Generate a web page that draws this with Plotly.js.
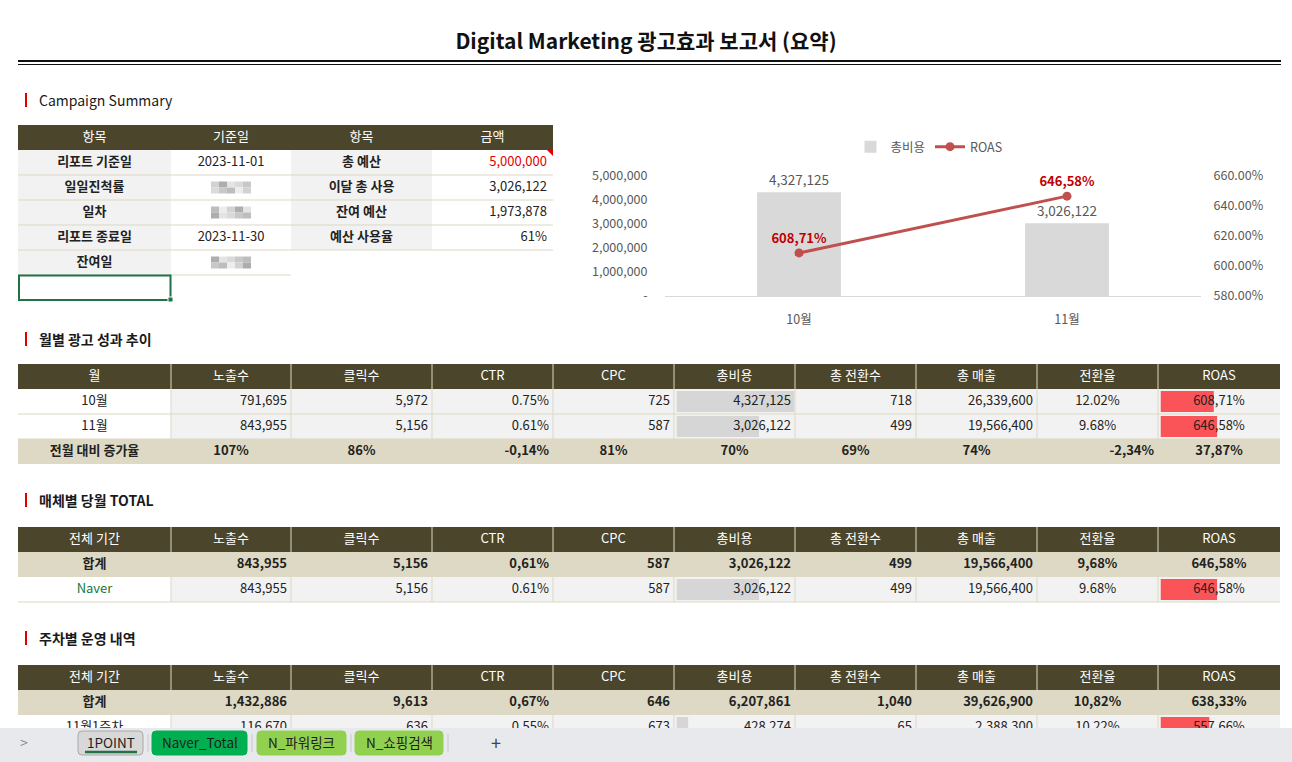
<!DOCTYPE html>
<html>
<head>
<meta charset="utf-8">
<script src="https://cdn.plot.ly/plotly-3.0.1.min.js"></script>
<style>
html,body{margin:0;padding:0;background:#fff;overflow:hidden;}
#sheet{width:1292px;height:762px;}
</style>
</head>
<body>
<div id="sheet"></div>
<script>
// ================= DATA =================
const reportTitle = 'Digital Marketing 광고효과 보고서 (요약)';
const sectionTitles = ['Campaign Summary', '월별 광고 성과 추이', '매체별 당월 TOTAL', '주차별 운영 내역'];

// Campaign summary
const summaryHeaders = ['항목', '기준일', '항목', '금액'];
const summaryItemsA = ['리포트 기준일', '일일진척률', '일차', '리포트 종료일', '잔여일'];
const summaryValuesA = ['2023-11-01', null, null, '2023-11-30', null]; // null = masked in source
const summaryItemsB = ['총 예산', '이달 총 사용', '잔여 예산', '예산 사용율'];
const summaryValuesB = ['5,000,000', '3,026,122', '1,973,878', '61%'];

const metricHeaders = ['노출수', '클릭수', 'CTR', 'CPC', '총비용', '총 전환수', '총 매출', '전환율', 'ROAS'];

// Monthly
const months = ['10월', '11월'];
const monthImpressions = [791695, 843955];
const monthClicks = [5972, 5156];
const monthCTR = ['0.75%', '0.61%'];
const monthCPC = [725, 587];
const monthCost = [4327125, 3026122];
const monthConversions = [718, 499];
const monthRevenue = [26339600, 19566400];
const monthCVR = ['12.02%', '9.68%'];
const monthROAS = [608.71, 646.58];
const momLabel = '전월 대비 증가율';
const momGrowth = ['107%', '86%', '-0,14%', '81%', '70%', '69%', '74%', '-2,34%', '37,87%'];

// Media
const periodHeader = '전체 기간';
const totalLabel = '합계';
const mediaTotal = ['843,955', '5,156', '0,61%', '587', '3,026,122', '499', '19,566,400', '9,68%', '646,58%'];
const mediaNames = ['Naver'];
const mediaImpressions = [843955];
const mediaClicks = [5156];
const mediaCTR = ['0.61%'];
const mediaCPC = [587];
const mediaCost = [3026122];
const mediaConversions = [499];
const mediaRevenue = [19566400];
const mediaCVR = ['9.68%'];
const mediaROAS = [646.58];

// Weekly
const weekTotal = ['1,432,886', '9,613', '0,67%', '646', '6,207,861', '1,040', '39,626,900', '10,82%', '638,33%'];
const weeks = ['11월1주차'];
const weekImpressions = [116670];
const weekClicks = [636];
const weekCTR = ['0.55%'];
const weekCPC = [673];
const weekCost = [428274];
const weekConversions = [65];
const weekRevenue = [2388300];
const weekCVR = ['10.22%'];
const weekROAS = [557.66];

// chart axis ticks
const costTicks = [0, 1000000, 2000000, 3000000, 4000000, 5000000];

// sheet tabs
const sheetTabs = ['1POINT', 'Naver_Total', 'N_파워링크', 'N_쇼핑검색'];

// ================= STYLE / GEOMETRY =================
const W = 1292, H = 762;
const TAB_TOP = 728;
const FONT = "'Noto Sans CJK KR', 'Noto Sans', sans-serif";
const HEAD = '#4b452b', BEIGE = '#ddd9c4', GRAY = '#f2f2f2', WHITE = '#ffffff';
const LINE = '#ddd9c4', TEXT = '#222222', RED = '#e60000', GREEN_TXT = '#127a3a';
const TSIZE = 13;
const X0 = 18;
const colWidths = [153, 120, 141, 121, 121, 121, 121, 121, 121, 122];
const colX = [X0];
colWidths.forEach(w => colX.push(colX[colX.length - 1] + w));
const ROW_H = 25;
const ROAS_BAR_MAX = 1342;

const DATA_ALIGN = ['center', 'right', 'right', 'right', 'right', 'right', 'right', 'right', 'center', 'center'];
const MOM_ALIGN = ['center', 'center', 'center', 'right', 'center', 'center', 'center', 'center', 'right', 'center'];

const fmtInt = v => v.toLocaleString('en-US');
const fmtRoas = v => v.toFixed(2).replace('.', ',') + '%';

// ================= BUILDERS =================
const fills = [], lines = [], upper = [];
const annotations = [];
const textGroups = {};
const costBars = { x: [], y: [] }, roasBars = { x: [], y: [] };

function rect(arr, x0, y0, x1, y1, fill, line) {
  arr.push({ type: 'rect', xref: 'x', yref: 'y', x0, y0, x1, y1, fillcolor: fill,
    line: line || { width: 0 }, layer: arr === upper ? 'above' : 'below' });
}
function hline(x0, x1, y, color, w) {
  lines.push({ type: 'line', xref: 'x', yref: 'y', x0, x1, y0: y, y1: y, line: { color, width: w || 1 }, layer: 'below' });
}
function vline(x, y0, y1, color, w) {
  lines.push({ type: 'line', xref: 'x', yref: 'y', x0: x, x1: x, y0, y1, line: { color, width: w || 1 }, layer: 'below' });
}
function addText(x, y, text, align, bold, color, size) {
  const key = align + (bold ? 'B' : 'N');
  if (!textGroups[key]) textGroups[key] = { align, bold, x: [], y: [], text: [], color: [], size: [] };
  const g = textGroups[key];
  g.x.push(x); g.y.push(y); g.text.push(text); g.color.push(color || TEXT); g.size.push(size || TSIZE);
}
function cellX(c, align) {
  if (align === 'right') return colX[c + 1] - 4;
  if (align === 'left') return colX[c] + 4;
  return (colX[c] + colX[c + 1]) / 2;
}
function maskCell(c, yc, seed) {
  const tones = ['#e4e4e4', '#d2d2d2', '#bdbdbd', '#dadada', '#adadad', '#ededed', '#c8c8c8'];
  const cx = (colX[c] + colX[c + 1]) / 2;
  for (let r = 0; r < 2; r++) {
    for (let k = 0; k < 5; k++) {
      const t = tones[(k * 3 + r * 2 + seed) % tones.length];
      rect(fills, cx - 20 + k * 8, yc - 6 + r * 6, cx - 12 + k * 8, yc + r * 6, t);
    }
  }
}

function sectionTitle(label, yc, bold) {
  lines.push({ type: 'line', xref: 'x', yref: 'y', x0: 26, x1: 26, y0: yc - 7, y1: yc + 7, line: { color: '#e00000', width: 2 }, layer: 'below' });
  annotations.push({ xref: 'x', yref: 'y', x: 37, y: yc, text: label, showarrow: false, xanchor: 'left', yanchor: 'middle',
    font: { family: FONT, size: 14, color: '#1a1a1a', weight: bold ? 700 : 400 } });
}

function wideTable(top, rows) {
  const headers = [periodHeader].concat(metricHeaders);
  const labels = rows.header || headers;
  for (let c = 0; c < 10; c++) {
    rect(fills, colX[c], top, colX[c + 1], top + ROW_H, HEAD);
    addText(cellX(c, 'center'), top + ROW_H / 2, labels[c], 'center', false, '#ffffff');
  }
  rows.list.forEach((r, i) => {
    const y0 = top + ROW_H * (i + 1), yc = y0 + ROW_H / 2;
    for (let c = 0; c < 10; c++) {
      rect(fills, colX[c], y0, colX[c + 1], y0 + ROW_H, r.fills[c]);
      addText(cellX(c, r.align[c]), yc, r.cells[c], r.align[c], r.bold, r.colors ? r.colors[c] : TEXT);
    }
    if (r.cost !== undefined) { costBars.x.push(r.cost); costBars.y.push(yc); }
    if (r.roas !== undefined) { roasBars.x.push(r.roas); roasBars.y.push(yc); }
    if (r.line) hline(colX[0], colX[10], y0 + ROW_H, LINE);
  });
  for (let c = 1; c < 10; c++) vline(colX[c], top, top + ROW_H * (rows.list.length + 1), LINE);
}

function dataRow(name, impr, clicks, ctr, cpc, cost, conv, rev, cvr, roas, nameColor) {
  const colors = Array(10).fill(TEXT);
  if (nameColor) colors[0] = nameColor;
  return {
    cells: [name, fmtInt(impr), fmtInt(clicks), ctr, fmtInt(cpc), fmtInt(cost), fmtInt(conv), fmtInt(rev), cvr, fmtRoas(roas)],
    fills: [WHITE].concat(Array(9).fill(GRAY)), align: DATA_ALIGN, bold: false, colors, cost, roas, line: true
  };
}
function totalRow(label, vals, align) {
  return { cells: [label].concat(vals), fills: Array(10).fill(BEIGE), align: align || DATA_ALIGN, bold: true, line: false };
}

// ---- Title double rule ----
hline(18, 1281, 61, '#111111', 2);
hline(18, 1281, 64.5, '#111111', 1.2);

// ---- Campaign summary ----
sectionTitle(sectionTitles[0], 100, false);
const sTop = 125;
for (let c = 0; c < 4; c++) {
  rect(fills, colX[c], sTop, colX[c + 1], sTop + ROW_H, HEAD);
  addText(cellX(c, 'center'), sTop + ROW_H / 2, summaryHeaders[c], 'center', false, '#ffffff');
}
summaryItemsA.forEach((label, i) => {
  const y0 = sTop + ROW_H * (i + 1), yc = y0 + ROW_H / 2;
  rect(fills, colX[0], y0, colX[1], y0 + ROW_H, GRAY);
  addText(cellX(0, 'center'), yc, label, 'center', true);
  rect(fills, colX[1], y0, colX[2], y0 + ROW_H, WHITE);
  if (summaryValuesA[i] === null) maskCell(1, yc, i);
  else addText(cellX(1, 'center'), yc, summaryValuesA[i], 'center', false);
  const hasB = i < summaryItemsB.length;
  if (hasB) {
    rect(fills, colX[2], y0, colX[3], y0 + ROW_H, GRAY);
    addText(cellX(2, 'center'), yc, summaryItemsB[i], 'center', true);
    rect(fills, colX[3], y0, colX[4], y0 + ROW_H, WHITE);
    addText(cellX(3, 'right') - 2, yc, summaryValuesB[i], 'right', false, i === 0 ? RED : TEXT);
  }
  hline(colX[0], colX[hasB ? 4 : 2], y0 + ROW_H, LINE);
});
// comment marker on total budget cell
lines.push({ type: 'path', xref: 'x', yref: 'y', path: `M${colX[4] - 6},${sTop + ROW_H} L${colX[4]},${sTop + ROW_H} L${colX[4]},${sTop + ROW_H + 6} Z`,
  fillcolor: '#e00000', line: { width: 0 }, layer: 'below' });
// selected cell
const selY = sTop + ROW_H * (summaryItemsA.length + 1);
lines.push({ type: 'rect', xref: 'x', yref: 'y', x0: colX[0] + 1, y0: selY + 0.5, x1: colX[1] - 0.5, y1: selY + ROW_H, line: { color: '#217346', width: 2 }, fillcolor: 'rgba(0,0,0,0)', layer: 'below' });
lines.push({ type: 'rect', xref: 'x', yref: 'y', x0: colX[1] - 3, y0: selY + ROW_H - 3, x1: colX[1] + 2, y1: selY + ROW_H + 2, line: { color: '#ffffff', width: 1 }, fillcolor: '#217346', layer: 'below' });

// ---- Monthly ----
sectionTitle(sectionTitles[1], 339, true);
const monthList = months.map((m, i) => dataRow(m, monthImpressions[i], monthClicks[i], monthCTR[i], monthCPC[i], monthCost[i],
  monthConversions[i], monthRevenue[i], monthCVR[i], monthROAS[i]));
monthList.push(totalRow(momLabel, momGrowth, MOM_ALIGN));
wideTable(364, { header: ['월'].concat(metricHeaders), list: monthList });

// ---- Media ----
sectionTitle(sectionTitles[2], 500, true);
const mediaList = [totalRow(totalLabel, mediaTotal)];
mediaNames.forEach((n, i) => mediaList.push(dataRow(n, mediaImpressions[i], mediaClicks[i], mediaCTR[i], mediaCPC[i], mediaCost[i],
  mediaConversions[i], mediaRevenue[i], mediaCVR[i], mediaROAS[i], GREEN_TXT)));
wideTable(527, { list: mediaList });

// ---- Weekly ----
sectionTitle(sectionTitles[3], 638, true);
const weekList = [totalRow(totalLabel, weekTotal)];
weeks.forEach((n, i) => weekList.push(dataRow(n, weekImpressions[i], weekClicks[i], weekCTR[i], weekCPC[i], weekCost[i],
  weekConversions[i], weekRevenue[i], weekCVR[i], weekROAS[i])));
wideTable(665, { list: weekList });

// ---- Sheet tab bar (above everything) ----
rect(upper, 0, TAB_TOP, W, H, '#e7e9ed');
const tabGeom = [[78, 143], [152, 247], [257, 346], [355, 443]];
const tabFill = ['#d8d8d8', '#00b050', '#92d050', '#92d050'];
function roundPath(x0, y0, x1, y1, r) {
  return `M${x0 + r},${y0} L${x1 - r},${y0} Q${x1},${y0} ${x1},${y0 + r} L${x1},${y1 - r} Q${x1},${y1} ${x1 - r},${y1} L${x0 + r},${y1} Q${x0},${y1} ${x0},${y1 - r} L${x0},${y0 + r} Q${x0},${y0} ${x0 + r},${y0} Z`;
}
sheetTabs.forEach((t, i) => {
  const [a, b] = tabGeom[i];
  upper.push({ type: 'path', xref: 'x', yref: 'y', path: roundPath(a, 731, b, 755, 4), fillcolor: tabFill[i],
    line: { color: i === 0 ? '#a9a9a9' : tabFill[i], width: 1 }, layer: 'above' });
  annotations.push({ xref: 'x', yref: 'y', x: (a + b) / 2, y: 742, text: t, showarrow: false, xanchor: 'center', yanchor: 'middle',
    font: { family: FONT, size: 13.5, color: '#1e1e1e' } });
  upper.push({ type: 'line', xref: 'x', yref: 'y', x0: b + 5, x1: b + 5, y0: 734, y1: 752, line: { color: '#c6c8cc', width: 1 }, layer: 'above' });
});
upper.push({ type: 'line', xref: 'x', yref: 'y', x0: 85, x1: 137, y0: 752, y1: 752, line: { color: '#217346', width: 2.5 }, layer: 'above' });
annotations.push({ xref: 'x', yref: 'y', x: 24, y: 742, text: '>', showarrow: false, font: { family: FONT, size: 14, color: '#8a8a8a' } });
annotations.push({ xref: 'x', yref: 'y', x: 496, y: 742, text: '+', showarrow: false, font: { family: FONT, size: 18, color: '#444' } });

// ================= TRACES =================
const traces = [];

// chart
traces.push({
  type: 'bar', name: '총비용', x: months, y: monthCost, xaxis: 'x2', yaxis: 'y2', width: 0.313,
  marker: { color: '#d9d9d9' }, text: monthCost.map(fmtInt), textposition: 'outside', cliponaxis: false,
  textfont: { family: FONT, size: 13.5, color: '#595959' }, hoverinfo: 'skip'
});
traces.push({
  type: 'scatter', name: 'ROAS', x: months, y: monthROAS, xaxis: 'x2', yaxis: 'y3', mode: 'lines+markers+text',
  line: { color: '#c0504d', width: 3 }, marker: { color: '#c0504d', size: 9 },
  text: monthROAS.map(fmtRoas), textposition: 'top center', cliponaxis: false,
  textfont: { family: FONT, size: 13, color: '#c00000', weight: 700 }, hoverinfo: 'skip'
});

// data bars (clipped at the sheet-tab bar)
traces.push({ type: 'bar', orientation: 'h', x: costBars.x, y: costBars.y, xaxis: 'x3', yaxis: 'y4', width: 21,
  marker: { color: '#d6d6d6' }, showlegend: false, hoverinfo: 'skip' });
traces.push({ type: 'bar', orientation: 'h', x: roasBars.x, y: roasBars.y, xaxis: 'x4', yaxis: 'y4', width: 21,
  marker: { color: '#fb5458' }, showlegend: false, hoverinfo: 'skip' });

// cell text (clipped at the sheet-tab bar)
Object.values(textGroups).forEach(g => {
  traces.push({
    type: 'scatter', mode: 'text', x: g.x, y: g.y, text: g.text, xaxis: 'x5', yaxis: 'y4',
    textposition: g.align === 'right' ? 'middle left' : (g.align === 'left' ? 'middle right' : 'middle center'),
    textfont: { family: FONT, size: g.size, color: g.color, weight: g.bold ? 700 : 400 },
    marker: { size: 0 }, showlegend: false, hoverinfo: 'skip', cliponaxis: true
  });
});

// ================= LAYOUT =================
const tickFont = { family: FONT, size: 12.5, color: '#595959' };
const clear = 'rgba(0,0,0,0)';
const layout = {
  width: W, height: H, margin: { l: 0, r: 0, t: 0, b: 0, pad: 0 },
  paper_bgcolor: '#ffffff', plot_bgcolor: clear,
  font: { family: FONT, color: TEXT },
  title: { text: reportTitle, x: 0.5, xanchor: 'center', y: 1 - 42 / H, yanchor: 'middle', xref: 'paper', yref: 'paper',
    font: { family: FONT, size: 21, color: '#111111', weight: 700 } },
  showlegend: true,
  legend: { orientation: 'h', x: 929 / W, xanchor: 'center', y: 1 - 147 / H, yanchor: 'middle',
    font: { family: FONT, size: 12.5, color: '#595959' }, bgcolor: clear, traceorder: 'normal' },
  hovermode: false,
  xaxis: { domain: [0, 1], range: [0, W], visible: false, fixedrange: true },
  yaxis: { domain: [0, 1], range: [H, 0], visible: false, fixedrange: true },
  yaxis4: { domain: [(H - TAB_TOP) / H, 1], range: [TAB_TOP, 0], anchor: 'x5', visible: false, fixedrange: true },
  xaxis2: { domain: [665 / W, 1201 / W], anchor: 'y2', type: 'category', showline: true, linecolor: '#d9d9d9', linewidth: 1,
    ticks: 'outside', ticklen: 12, tickcolor: clear, tickfont: tickFont, showgrid: false, zeroline: false, fixedrange: true },
  yaxis2: { domain: [(H - 296) / H, (H - 176) / H], anchor: 'x2', range: [0, costTicks[costTicks.length - 1]],
    tickvals: costTicks, ticktext: costTicks.map(v => v === 0 ? '-' : fmtInt(v)),
    showgrid: false, zeroline: false, showline: false, ticks: 'outside', ticklen: 14, tickcolor: clear, tickfont: tickFont, fixedrange: true },
  yaxis3: { overlaying: 'y2', side: 'right', anchor: 'x2', range: [580, 660], tick0: 580, dtick: 20, tickformat: '.2f', ticksuffix: '%',
    showgrid: false, zeroline: false, showline: false, ticks: 'outside', ticklen: 9, tickcolor: clear, tickfont: tickFont, fixedrange: true },
  xaxis3: { domain: [676.5 / W, 794.5 / W], range: [0, Math.max.apply(null, monthCost)], anchor: 'y4', visible: false, fixedrange: true },
  xaxis4: { domain: [1160.5 / W, 1278 / W], range: [0, ROAS_BAR_MAX], anchor: 'y4', visible: false, fixedrange: true },
  xaxis5: { domain: [0, 1], range: [0, W], anchor: 'y4', visible: false, fixedrange: true },
  shapes: fills.concat(lines).concat(upper),
  annotations: annotations
};

Plotly.newPlot('sheet', traces, layout, { staticPlot: true, displayModeBar: false });
</script>
</body>
</html>
